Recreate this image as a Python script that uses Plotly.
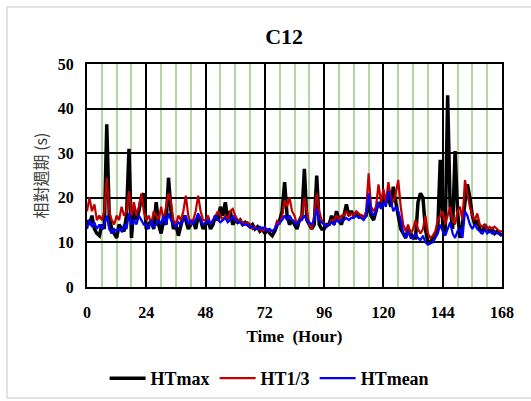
import plotly.graph_objects as go

hours = list(range(0, 169))

ht_max = [
    15, 14, 16, 13, 12, 11.5, 14, 13, 36.5, 16, 13, 12, 11, 14, 13, 12.5, 16, 31, 11, 18, 15, 17, 20, 21,
    13, 14, 15, 13, 19, 14, 12, 15, 14, 24.5, 17, 13, 14, 11.5, 14, 16, 15, 13, 14, 15, 13, 16, 15, 13,
    14, 15, 13, 14, 16, 15, 18, 16, 19, 15, 17, 14, 15, 14.5, 15, 14, 14.5, 14, 13.5, 14, 13, 13.5, 12.5, 13,
    12, 13, 12, 11.5, 12.5, 14, 15, 17, 23.5, 16, 14, 15, 14, 13, 15, 16, 26.5, 15, 14, 13, 14, 25, 14, 13,
    13, 14, 14, 16, 14, 17, 15, 14, 16, 18.5, 16, 17, 16, 16.5, 16, 16, 15.5, 16, 19, 16, 15, 17, 19, 18,
    20, 19, 20, 18, 22.5, 19, 16, 13, 12, 11, 13, 12, 11, 11, 19, 21, 20, 13, 10, 10, 11, 12, 13, 28.5,
    14, 12, 43, 18, 13, 30.5, 17, 11, 14, 19, 23, 20, 16, 14, 15, 13, 12, 14, 13, 12.5, 13, 12, 12.5, 12,
    11.5,
]

ht_13 = [
    17, 20, 17, 18.5, 15, 16, 15, 17, 24.5, 17, 15, 14, 16, 15, 18, 16, 17, 21.5, 16, 19, 16, 18, 21, 17,
    15, 16, 14, 17, 16, 15, 18, 15, 18, 21, 19, 15, 14, 16, 15, 17, 20.5, 16, 14, 15, 17, 20.5, 17, 15,
    15, 16, 14, 15, 16, 17, 16, 15, 16, 15, 17, 17.5, 16, 15, 15, 14.5, 14, 14.5, 14, 13, 13.5, 13, 13, 12.5,
    13, 13, 12.5, 12.5, 13, 15, 14, 16, 19.5, 18, 20, 17, 16, 14, 15, 16, 20, 17, 14, 13, 16, 21, 17, 15,
    14, 13.5, 14, 15, 15, 16, 15, 16, 16, 17, 16, 16.5, 16, 17, 16.5, 16, 15.5, 17, 25.5, 18, 17, 18, 23, 19,
    22, 19, 23.5, 20, 19, 21, 24, 18, 14, 12.5, 14, 12, 13, 15, 13, 12, 13, 16, 12, 11, 11.5, 12.5, 15, 16,
    17, 14, 16, 18, 15, 14, 17, 18, 15, 24, 21, 18, 16, 15, 16.5, 14, 13.5, 14, 13, 13.5, 13, 13.5, 13, 12.5,
    12.5,
]

ht_mean = [
    13, 15, 13.5, 14.5, 13, 14, 13, 14, 16, 13, 12, 13, 12.5, 13, 12.5, 14, 13, 16.5, 14, 15, 14, 16, 15, 14,
    14, 13, 15, 13.5, 14, 15, 14, 16, 14, 16.5, 15, 14, 13.5, 14.5, 14, 15, 16, 14, 15, 14, 15, 16.5, 15, 14,
    14.5, 15, 14, 15, 16, 15, 14.5, 15, 15.5, 14.5, 15, 16, 15, 14.5, 14.5, 14, 14, 14, 13.5, 13.5, 13, 13, 13.5, 13,
    13.5, 12.5, 13, 12.5, 13, 14, 14.5, 15, 16, 15, 16, 15, 14.5, 14, 15, 15, 16, 15, 14.5, 14, 15, 17.5, 15, 14.5,
    14, 13.5, 14, 14.5, 14, 15, 14.5, 15, 15, 15.5, 15, 15.5, 15.5, 16, 15.5, 15.5, 15, 16, 21, 17, 16, 17, 19, 17.5,
    19, 18, 21.5, 19, 17, 18, 17, 15, 12, 11, 12.5, 11, 11, 12, 11, 10.5, 11.5, 10, 9.5, 9.8, 10, 11, 12, 14,
    12.5, 11.5, 13, 14.5, 12, 11, 12.5, 13, 11, 17, 16, 14, 13, 14, 13, 12.5, 12, 13, 12, 12.5, 12, 12.5, 12, 12,
    11.5,
]

x_ticks = [0, 24, 48, 72, 96, 120, 144, 168]
y_ticks = [0, 10, 20, 30, 40, 50]

serif = "Liberation Serif, Times New Roman, serif"

fig = go.Figure()
fig.add_trace(go.Scatter(x=hours, y=ht_max, mode="lines", name="<b>HTmax</b>",
                         line=dict(color="#000000", width=3.5)))
fig.add_trace(go.Scatter(x=hours, y=ht_13, mode="lines", name="<b>HT1/3</b>",
                         line=dict(color="#c00000", width=2.2)))
fig.add_trace(go.Scatter(x=hours, y=ht_mean, mode="lines", name="<b>HTmean</b>",
                         line=dict(color="#0000ff", width=2.2)))

fig.update_layout(
    width=531, height=401, autosize=False,
    margin=dict(l=87, r=29, t=64, b=114, autoexpand=False),
    paper_bgcolor="white", plot_bgcolor="white",
    title=dict(text="<b>C12</b>", x=0.535, xanchor="center", y=0.91, yanchor="middle",
               font=dict(family=serif, size=22, color="#000")),
    showlegend=True,
    legend=dict(orientation="h", x=0.44, xanchor="center",
                y=-0.41, yanchor="middle",
                font=dict(family=serif, size=18, color="#000"),
                itemwidth=36, traceorder="normal"),
    xaxis=dict(range=[0, 168], tickvals=x_ticks, ticktext=[f"<b>{v}</b>" for v in x_ticks],
               showgrid=True, gridcolor="#000000", gridwidth=2,
               minor=dict(dtick=6, tick0=0, showgrid=True, gridcolor="#b5d6a0", gridwidth=1.5),
               showline=True, linecolor="#000000", linewidth=2, mirror=True,
               ticks="", zeroline=False, tickangle=0, ticklabelstandoff=10,
               tickfont=dict(family=serif, size=16, color="#000"),
               title=dict(text="<b>Time  (Hour)</b>", standoff=10,
                          font=dict(family=serif, size=17, color="#000"))),
    yaxis=dict(range=[0, 50], tickvals=y_ticks, ticktext=[f"<b>{v}</b>" for v in y_ticks],
               showgrid=True, gridcolor="#000000", gridwidth=1.5,
               showline=True, linecolor="#000000", linewidth=2, mirror=True,
               ticks="", zeroline=False, ticklabelstandoff=8,
               tickfont=dict(family=serif, size=16, color="#000"),
               title=dict(text="相對週期 (s)", standoff=6,
                          font=dict(family="Noto Sans CJK TC, " + serif, size=16, color="#404040"))),
)

fig.add_shape(type="rect", xref="paper", yref="paper",
              x0=(7 - 87) / 415, x1=(535 - 87) / 415,
              y0=(287 - 398) / 223, y1=(287 - 7) / 223,
              line=dict(color="#d9d9d9", width=1.5), layer="below")

fig.write_html("out.html")
